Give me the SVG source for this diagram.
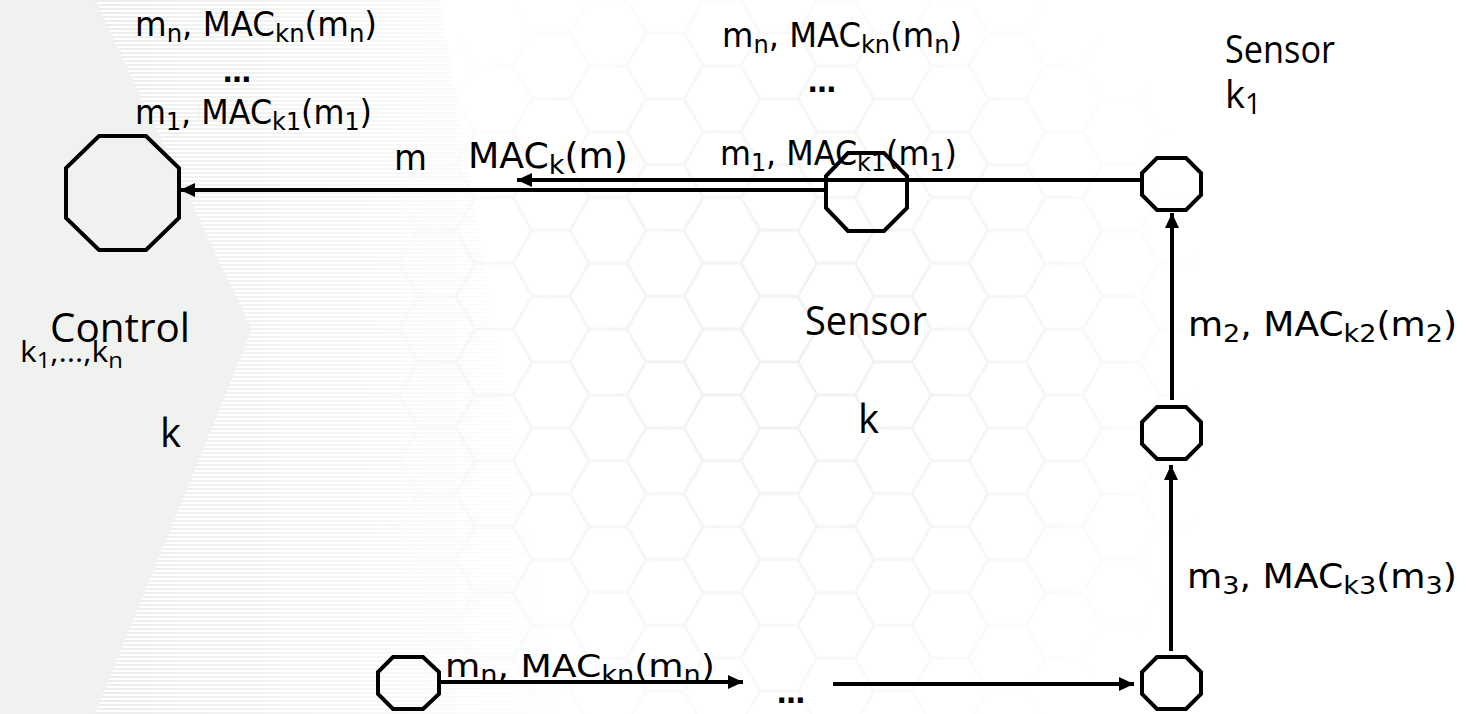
<svg xmlns="http://www.w3.org/2000/svg" width="1466" height="714" viewBox="0 0 1466 714">
<defs>
  <style>
    .oct{fill:none;stroke:#000;stroke-width:4;stroke-linejoin:miter}
    .edge{fill:none;stroke:#000;stroke-width:4}
    .lbl{font-family:"DejaVu Sans","Liberation Sans",sans-serif;fill:#000}
    .nm{font-family:"Open Sans","Noto Sans","DejaVu Sans",sans-serif;fill:#000}
    .sub{font-size:0.75em}
  </style>
  <marker id="ah" markerUnits="userSpaceOnUse" markerWidth="16" markerHeight="14" refX="15" refY="7" orient="auto">
    <path d="M0,0 L15,7 L0,14 Z" fill="#000"/>
  </marker>
  <pattern id="stripes" width="10" height="4" patternUnits="userSpaceOnUse">
    <rect width="10" height="2" fill="#eaedea"/>
  </pattern>
  <linearGradient id="fadeX" x1="0" y1="0" x2="1" y2="0">
    <stop offset="0" stop-color="#fff" stop-opacity="1"/>
    <stop offset="1" stop-color="#fff" stop-opacity="0"/>
  </linearGradient>
  <mask id="stripeMask" maskUnits="userSpaceOnUse" x="0" y="0" width="1466" height="714">
    <rect x="80" y="0" width="500" height="714" fill="url(#fadeX)"/>
  </mask>
  <pattern id="hex" width="114" height="65.82" patternUnits="userSpaceOnUse">
    <path d="M0,32.91 L19,0 L57,0 L76,32.91 L57,65.82 L19,65.82 Z M76,32.91 L114,32.91" fill="none" stroke="#f1f1f1" stroke-width="3"/>
  </pattern>
  <radialGradient id="hexFade" cx="780" cy="360" r="460" gradientUnits="userSpaceOnUse">
    <stop offset="0" stop-color="#fff" stop-opacity="1"/>
    <stop offset="0.6" stop-color="#fff" stop-opacity="0.6"/>
    <stop offset="1" stop-color="#fff" stop-opacity="0"/>
  </radialGradient>
  <mask id="hexMask" maskUnits="userSpaceOnUse" x="0" y="0" width="1466" height="714">
    <rect width="1466" height="714" fill="url(#hexFade)"/>
  </mask>
</defs>

<g id="background">
  <rect width="1466" height="714" fill="#ffffff"/>
  <rect x="300" y="0" width="900" height="714" fill="url(#hex)" mask="url(#hexMask)"/>
  <polygon points="0,0 440,0 560,714 0,714" fill="url(#stripes)" mask="url(#stripeMask)"/>
  <polygon points="0,0 95,0 252,330 95,714 0,714" fill="#f0f2f0"/>
</g>

<g id="connectors">
  <line id="e-sensor-control" class="edge" x1="826" y1="190" x2="180" y2="190" marker-end="url(#ah)"/>
  <line id="e-k1-sensor" class="edge" x1="1142" y1="180" x2="517" y2="180" marker-end="url(#ah)"/>
  <line id="e-2-k1" class="edge" x1="1172" y1="400" x2="1172" y2="213" marker-end="url(#ah)"/>
  <line id="e-3-2" class="edge" x1="1171" y1="651" x2="1171" y2="465" marker-end="url(#ah)"/>
  <line id="e-n-dots" class="edge" x1="439" y1="682" x2="743" y2="682" marker-end="url(#ah)"/>
  <line id="e-dots-3" class="edge" x1="833" y1="684" x2="1134" y2="684" marker-end="url(#ah)"/>
</g>

<g id="control">
  <polygon class="oct" points="99,136 146,136 179,168 179,218 146,250 99,250 66,218 66,168"/>
  <text class="nm" x="50" y="342" font-size="40" textLength="140" lengthAdjust="spacingAndGlyphs">Control</text>
  <text class="nm" x="20" y="362" font-size="30" textLength="103" lengthAdjust="spacingAndGlyphs">k<tspan class="sub" dy="6">1</tspan><tspan dy="-6">,…,k</tspan><tspan class="sub" dy="6">n</tspan></text>
  <text class="nm" x="160" y="447" font-size="40">k</text>
</g>

<g id="sensor">
  <polygon class="oct" points="848,153 884,153 907,176 907,208 884,231 848,231 826,208 826,176"/>
  <text class="nm" x="805" y="335" font-size="40" textLength="122" lengthAdjust="spacingAndGlyphs">Sensor</text>
  <text class="nm" x="858" y="433" font-size="40">k</text>
</g>

<g id="sensor-k1">
  <polygon class="oct" points="1157,158 1186,158 1201,173 1201,195 1186,210 1157,210 1142,195 1142,173"/>
  <text class="nm" x="1225" y="63" font-size="38" textLength="110" lengthAdjust="spacingAndGlyphs">Sensor</text>
  <text class="nm" x="1225" y="108" font-size="38">k<tspan class="sub" dy="6">1</tspan></text>
</g>

<g id="node-2">
  <polygon class="oct" points="1157,407 1186,407 1201,422 1201,444 1186,459 1157,459 1142,444 1142,422"/>
</g>

<g id="node-3">
  <polygon class="oct" points="1157,657 1186,657 1201,672 1201,694 1186,709 1157,709 1142,694 1142,672"/>
</g>

<g id="node-n">
  <polygon class="oct" points="393,657 423,657 439,672 439,694 423,709 393,709 378,694 378,672"/>
</g>

<g id="labels">
  <text class="lbl" x="135" y="36" font-size="33" textLength="242" lengthAdjust="spacingAndGlyphs">m<tspan class="sub" dy="6">n</tspan><tspan dy="-6">, MAC</tspan><tspan class="sub" dy="6">kn</tspan><tspan dy="-6">(m</tspan><tspan class="sub" dy="6">n</tspan><tspan dy="-6">)</tspan></text>
  <text class="lbl" x="237" y="82" font-size="28" text-anchor="middle" font-weight="bold">…</text>
  <text class="lbl" x="135" y="124" font-size="33" textLength="237" lengthAdjust="spacingAndGlyphs">m<tspan class="sub" dy="6">1</tspan><tspan dy="-6">, MAC</tspan><tspan class="sub" dy="6">k1</tspan><tspan dy="-6">(m</tspan><tspan class="sub" dy="6">1</tspan><tspan dy="-6">)</tspan></text>

  <text class="lbl" x="394" y="170" font-size="35" textLength="33" lengthAdjust="spacingAndGlyphs">m</text>
  <text class="lbl" x="468" y="168" font-size="35" textLength="160" lengthAdjust="spacingAndGlyphs">MAC<tspan class="sub" dy="6">k</tspan><tspan dy="-6">(m)</tspan></text>

  <text class="lbl" x="722" y="47" font-size="33" textLength="240" lengthAdjust="spacingAndGlyphs">m<tspan class="sub" dy="6">n</tspan><tspan dy="-6">, MAC</tspan><tspan class="sub" dy="6">kn</tspan><tspan dy="-6">(m</tspan><tspan class="sub" dy="6">n</tspan><tspan dy="-6">)</tspan></text>
  <text class="lbl" x="822" y="92" font-size="28" text-anchor="middle" font-weight="bold">…</text>
  <text class="lbl" x="720" y="165" font-size="33" textLength="237" lengthAdjust="spacingAndGlyphs">m<tspan class="sub" dy="6">1</tspan><tspan dy="-6">, MAC</tspan><tspan class="sub" dy="6">k1</tspan><tspan dy="-6">(m</tspan><tspan class="sub" dy="6">1</tspan><tspan dy="-6">)</tspan></text>

  <text class="lbl" x="1188" y="336" font-size="34" textLength="269" lengthAdjust="spacingAndGlyphs">m<tspan class="sub" dy="6">2</tspan><tspan dy="-6">, MAC</tspan><tspan class="sub" dy="6">k2</tspan><tspan dy="-6">(m</tspan><tspan class="sub" dy="6">2</tspan><tspan dy="-6">)</tspan></text>
  <text class="lbl" x="1187" y="588" font-size="34" textLength="270" lengthAdjust="spacingAndGlyphs">m<tspan class="sub" dy="6">3</tspan><tspan dy="-6">, MAC</tspan><tspan class="sub" dy="6">k3</tspan><tspan dy="-6">(m</tspan><tspan class="sub" dy="6">3</tspan><tspan dy="-6">)</tspan></text>

  <text class="lbl" x="445" y="677" font-size="32" textLength="270" lengthAdjust="spacingAndGlyphs">m<tspan class="sub" dy="6">n</tspan><tspan dy="-6">, MAC</tspan><tspan class="sub" dy="6">kn</tspan><tspan dy="-6">(m</tspan><tspan class="sub" dy="6">n</tspan><tspan dy="-6">)</tspan></text>
  <text class="lbl" x="791" y="703" font-size="28" text-anchor="middle" font-weight="bold">…</text>
</g>
</svg>
